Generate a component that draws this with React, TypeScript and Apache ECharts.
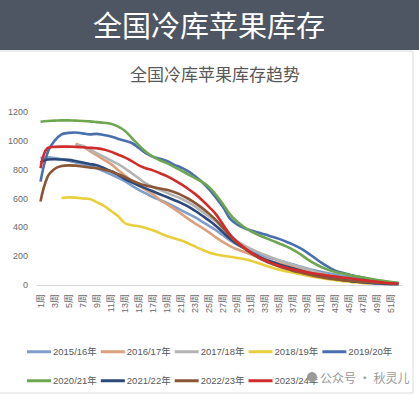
import React, { useEffect, useRef } from "react";
import * as echarts from "echarts";

const weeks: string[] = Array.from({ length: 52 }, (_, i) => `${i + 1}周`);
const yTicks = { min: 0, max: 1200, interval: 200 };

const seriesNames = [
  "2015/16年", "2016/17年", "2017/18年", "2018/19年", "2019/20年",
  "2020/21年", "2021/22年", "2022/23年", "2023/24年",
];
const seriesColors = [
  "#7f9ecb", "#dba07c", "#b4b4b4", "#e9cf3c", "#4a6fae",
  "#6fa650", "#2c4a78", "#8a5636", "#d22b2b",
];

const _ = null;
const s2015 = [880, 885, 880, 872, 862, 850, 838, 825, 810, 790, 768, 745, 720, 690, 660, 635, 610, 590, 570, 545, 520, 495, 470, 440, 410, 380, 345, 310, 280, 258, 238, 218, 200, 184, 170, 156, 142, 128, 115, 103, 92, 82, 72, 63, 55, 47, 40, 34, 28, 23, 18, 14];
const s2016 = [_, _, _, _, _, 980, 960, 930, 900, 870, 840, 800, 760, 720, 690, 660, 630, 590, 560, 530, 495, 460, 428, 398, 365, 330, 298, 270, 248, 230, 212, 195, 178, 163, 150, 138, 126, 114, 102, 90, 78, 66, 55, 45, 36, 28, 20, 14, _, _, _, _];
const s2017 = [_, _, _, _, _, 970, 965, 940, 915, 890, 865, 840, 810, 775, 740, 705, 680, 660, 640, 620, 600, 575, 545, 510, 475, 440, 395, 345, 305, 275, 250, 228, 208, 190, 172, 156, 140, 125, 110, 95, 80, 68, 56, 45, 36, 28, 20, 14, 10, _, _, _];
const s2018 = [_, _, _, 604, 608, 606, 600, 597, 575, 550, 515, 480, 430, 415, 408, 395, 380, 360, 340, 325, 310, 290, 268, 245, 225, 212, 203, 196, 188, 180, 168, 152, 136, 120, 106, 95, 85, 75, 65, 55, 48, 40, 33, 27, 22, 17, 13, 10, _, _, _, _];
const s2019 = [717, 917, 1000, 1045, 1055, 1058, 1052, 1045, 1048, 1040, 1030, 1015, 1000, 985, 950, 915, 890, 875, 860, 835, 815, 790, 755, 715, 665, 605, 540, 460, 420, 395, 378, 364, 350, 335, 320, 300, 280, 255, 225, 190, 155, 125, 100, 85, 72, 60, 50, 40, 30, 22, 15, 10];
const s2020 = [1132, 1138, 1140, 1142, 1142, 1140, 1138, 1135, 1130, 1125, 1118, 1100, 1070, 1020, 970, 925, 890, 865, 845, 820, 795, 768, 742, 715, 680, 625, 560, 490, 440, 402, 372, 348, 328, 308, 288, 268, 244, 214, 180, 150, 125, 105, 90, 80, 70, 60, 52, 44, 35, 28, 20, 14];
const s2021 = [850, 870, 872, 870, 868, 860, 850, 840, 830, 812, 790, 765, 735, 712, 690, 670, 650, 630, 610, 590, 570, 545, 515, 482, 448, 410, 365, 320, 285, 255, 225, 200, 178, 160, 143, 128, 114, 100, 86, 72, 60, 50, 42, 35, 28, 22, 18, 14, 10, 8, 6, 5];
const s2022 = [580, 750, 805, 825, 830, 828, 822, 815, 810, 800, 790, 770, 750, 725, 705, 690, 680, 670, 660, 645, 625, 600, 570, 535, 495, 450, 395, 340, 295, 255, 220, 190, 166, 146, 128, 112, 98, 86, 74, 63, 54, 46, 40, 34, 29, 25, 21, 18, 15, 12, 10, 8];
const s2023 = [810, 950, 958, 960, 960, 958, 955, 952, 948, 940, 925, 905, 885, 860, 830, 810, 795, 775, 755, 730, 700, 668, 632, 590, 542, 490, 420, 350, 300, 260, 225, 195, 170, 150, 134, 120, 108, 98, 89, 80, 72, 65, 58, 52, 47, 40, 34, 28, 22, 16, 12, 10];

const allSeries = [s2015, s2016, s2017, s2018, s2019, s2020, s2021, s2022, s2023];

const LAT = '"Liberation Sans", "Noto Sans CJK SC", sans-serif';
const CJK = '"Noto Sans CJK SC", sans-serif';

export default function App() {
  const ref = useRef<HTMLDivElement>(null);
  useEffect(() => {
    if (!ref.current) return;
    const chart = echarts.init(ref.current, null, { renderer: "svg" });
    const legendCommon = {
      left: 22,
      itemWidth: 24,
      itemHeight: 3,
      itemGap: 4,
      icon: "rect",
      textStyle: { fontSize: 9.5, color: "#595959", fontFamily: LAT, padding: [0, 0, 0, -3] },
    };
    chart.setOption({
      animation: false,
      backgroundColor: "#ffffff",
      grid: { left: 37, right: 17, top: 112, bottom: 111 },
      legend: [
        { ...legendCommon, top: 342, data: seriesNames.slice(0, 5) },
        { ...legendCommon, top: 371, data: seriesNames.slice(5) },
      ],
      xAxis: {
        type: "category",
        data: weeks,
        boundaryGap: true,
        axisTick: { show: false },
        axisLine: { lineStyle: { color: "#d9d9d9", width: 1 } },
        axisLabel: {
          rotate: 90,
          interval: 1,
          fontSize: 9,
          color: "#6a6a6a",
          margin: 9,
          fontFamily: LAT,
        },
      },
      yAxis: {
        type: "value",
        min: yTicks.min,
        max: yTicks.max,
        interval: yTicks.interval,
        axisLine: { show: false },
        axisTick: { show: false },
        splitLine: { show: false },
        axisLabel: {
          fontSize: 9,
          color: "#6a6a6a",
          margin: 9,
          fontFamily: LAT,
          formatter: (v: number) => String(v),
        },
      },
      series: allSeries.map((d, i) => ({
        name: seriesNames[i],
        type: "line",
        data: d,
        smooth: 0.4,
        symbol: "none",
        color: seriesColors[i],
        lineStyle: { width: 2.6, color: seriesColors[i] },
      })),
      graphic: [
        {
          type: "rect",
          shape: { x: 0, y: 0, width: 419, height: 50 },
          style: { fill: "#4f5663" },
          z: 10,
        },
        {
          type: "text",
          x: 209,
          y: 24,
          style: {
            text: "全国冷库苹果库存",
            fill: "#ffffff",
            fontSize: 29,
            fontFamily: CJK,
            align: "center",
            verticalAlign: "middle",
          },
          z: 11,
        },
        {
          type: "rect",
          shape: { x: -2, y: 51, width: 415, height: 342 },
          style: { fill: "none", stroke: "#dcdcdc", lineWidth: 1 },
          z: 1,
        },
        {
          type: "text",
          x: 215,
          y: 73,
          style: {
            text: "全国冷库苹果库存趋势",
            fill: "#595959",
            fontSize: 17,
            fontFamily: CJK,
            align: "center",
            verticalAlign: "middle",
          },
        },
        {
          type: "circle",
          shape: { cx: 312, cy: 377, r: 5 },
          style: { fill: "#9a9a9a" },
          z: 20,
        },
        {
          type: "text",
          x: 320,
          y: 377,
          style: {
            text: "公众号 · 秋灵儿",
            fill: "#9a9a9a",
            fontSize: 12,
            fontFamily: CJK,
            align: "left",
            verticalAlign: "middle",
          },
          z: 20,
        },
      ],
    });
    return () => chart.dispose();
  }, []);
  return (
    <div
      ref={ref}
      style={{ position: "fixed", left: 0, top: 0, width: 419, height: 396 }}
    />
  );
}
